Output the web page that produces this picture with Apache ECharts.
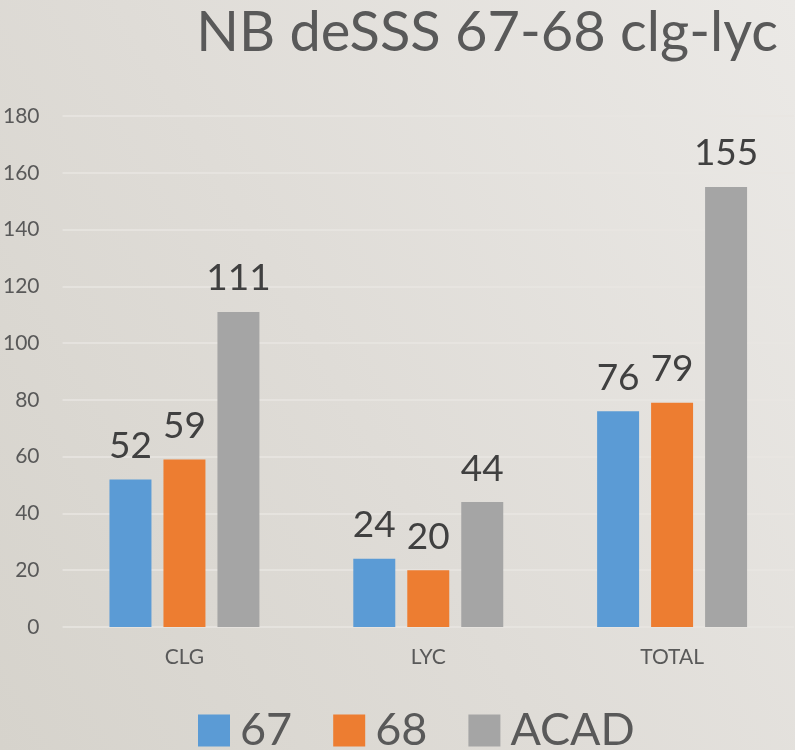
<!DOCTYPE html>
<html>
<head>
<meta charset="utf-8">
<script src="https://cdn.jsdelivr.net/npm/echarts@6/dist/echarts.min.js"></script>
<style>
html,body{margin:0;padding:0;}
#chart{width:795px;height:750px;background:linear-gradient(60deg,#d6d3cc 0%,#dfdcd7 45%,#ebe9e6 100%);}
</style>
</head>
<body>
<div id="chart"></div>
<script>
const categories = ['CLG', 'LYC', 'TOTAL'];
const series67 = [52, 24, 76];
const series68 = [59, 20, 79];
const seriesACAD = [111, 44, 155];
const yTicks = [0, 20, 40, 60, 80, 100, 120, 140, 160, 180];

const FONT = 'Lato';
const chart = echarts.init(document.getElementById('chart'), null, {renderer: 'canvas'});

function mk(name, data, color) {
  return {
    name: name,
    type: 'bar',
    data: data,
    barGap: '28.6%',
    barCategoryGap: '38.5%',
    itemStyle: {color: color},
    label: {
      show: true,
      position: 'top',
      distance: 15,
      fontFamily: FONT,
      fontSize: 37,
      color: '#404040'
    }
  };
}

chart.setOption({
  backgroundColor: 'transparent',
  animation: false,
  title: {
    text: 'NB deSSS 67-68 clg-lyc',
    right: 12,
    top: 0,
    textStyle: {fontFamily: FONT, fontSize: 56, fontWeight: 'normal', color: '#595959'}
  },
  legend: {
    top: 708,
    left: 198,
    padding: 0,
    itemWidth: 32,
    itemHeight: 32,
    itemGap: 41,
    icon: 'rect',
    textStyle: {fontFamily: FONT, fontSize: 45, color: '#595959', padding: [0, 0, 0, 5]},
    data: ['67', '68', 'ACAD']
  },
  grid: {left: 62, right: 1, top: 116, bottom: 123, containLabel: false},
  xAxis: {
    type: 'category',
    data: categories,
    axisLine: {show: false},
    axisTick: {show: false},
    axisLabel: {fontFamily: FONT, fontSize: 21, color: '#595959', margin: 20}
  },
  yAxis: {
    type: 'value',
    min: yTicks[0],
    max: yTicks[yTicks.length - 1],
    interval: 20,
    axisLine: {show: false},
    axisTick: {show: false},
    splitLine: {lineStyle: {color: '#e8e6e2', width: 1.5}},
    axisLabel: {fontFamily: FONT, fontSize: 21, color: '#595959', margin: 23}
  },
  series: [
    mk('67', series67, '#5B9BD5'),
    mk('68', series68, '#ED7D31'),
    mk('ACAD', seriesACAD, '#A5A5A5')
  ]
});
</script>
</body>
</html>
